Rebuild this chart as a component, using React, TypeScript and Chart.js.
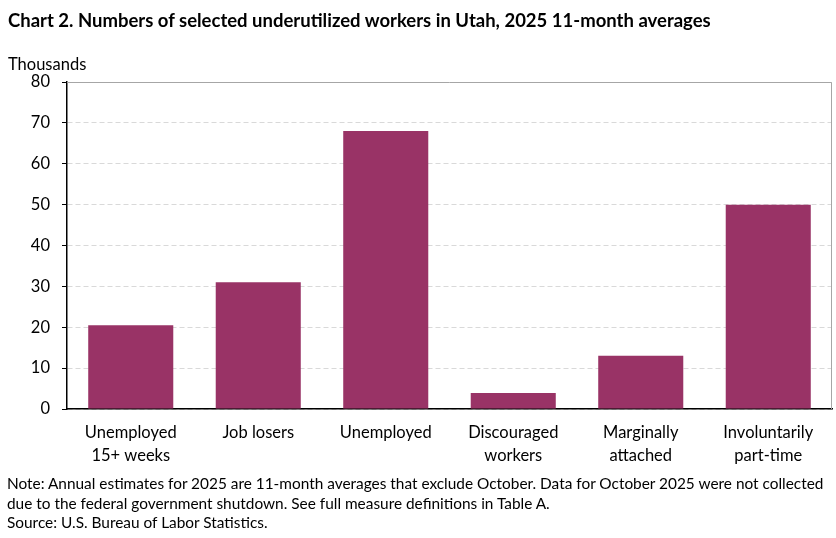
import React, { useEffect, useRef } from 'react';
import { Chart, registerables } from 'chart.js';

Chart.register(...registerables);

// Chart 2 data (thousands)
const categories: string[][] = [
  ['Unemployed', '15+ weeks'],
  ['Job losers'],
  ['Unemployed'],
  ['Discouraged', 'workers'],
  ['Marginally', 'attached'],
  ['Involuntarily', 'part-time'],
];
const workers: number[] = [20.5, 31.0, 68.0, 3.9, 13.0, 50.0];
const yTicks: number[] = [0, 10, 20, 30, 40, 50, 60, 70, 80];

const FONT = 'Lato, "Open Sans", sans-serif';
const CANVAS_H = 475;

// gray frame on the top and right of the plot area
const framePlugin = {
  id: 'frame',
  afterDraw(chart: Chart) {
    const { ctx, chartArea } = chart;
    ctx.save();
    ctx.strokeStyle = '#a6a6a6';
    ctx.lineWidth = 1;
    ctx.beginPath();
    ctx.moveTo(chartArea.left, chartArea.top + 0.5);
    ctx.lineTo(chartArea.right - 0.5, chartArea.top + 0.5);
    ctx.lineTo(chartArea.right - 0.5, chartArea.bottom);
    ctx.stroke();
    ctx.restore();
  },
};

const UnderutilizedChart: React.FC = () => {
  const canvasRef = useRef<HTMLCanvasElement | null>(null);
  const chartRef = useRef<Chart | null>(null);

  useEffect(() => {
    if (!canvasRef.current) return;
    const ctx = canvasRef.current.getContext('2d');
    if (!ctx) return;

    chartRef.current = new Chart(ctx, {
      type: 'bar',
      data: {
        labels: categories,
        datasets: [
          {
            data: workers,
            backgroundColor: '#993366',
            borderWidth: 0,
            barPercentage: 0.667,
            categoryPercentage: 1,
          },
        ],
      },
      options: {
        responsive: false,
        animation: false,
        layout: { padding: { top: 82, right: 4, left: 0, bottom: 0 } },
        plugins: {
          legend: { display: false },
          tooltip: { enabled: false },
        },
        scales: {
          x: {
            grid: { display: false },
            border: { display: true, color: '#000000', width: 1.5 },
            ticks: {
              color: '#000000',
              font: { family: FONT, size: 16.5, lineHeight: 1.35 },
              padding: 5,
              maxRotation: 0,
              autoSkip: false,
            },
            afterFit: (scale: any) => {
              scale.height = CANVAS_H - 409;
            },
          },
          y: {
            min: 0,
            max: 80,
            afterBuildTicks: (scale: any) => {
              scale.ticks = yTicks.map((v) => ({ value: v }));
            },
            grid: {
              color: '#d9d9d9',
              lineWidth: 1,
              tickLength: 5,
              tickColor: '#000000',
              tickBorderDash: [],
            },
            border: { display: true, color: '#000000', width: 1.5, dash: [5, 3] },
            ticks: {
              color: '#000000',
              font: { family: FONT, size: 16.5 },
              padding: 12,
            },
            afterFit: (scale: any) => {
              scale.width = 67;
            },
          },
        },
      },
      plugins: [framePlugin],
    });

    return () => {
      if (chartRef.current) {
        chartRef.current.destroy();
        chartRef.current = null;
      }
    };
  }, []);

  return <canvas ref={canvasRef} width={836} height={CANVAS_H} style={{ display: 'block' }} />;
};

export default function App() {
  useEffect(() => {
    document.body.style.margin = '0';
  }, []);

  return (
    <div
      style={{
        position: 'relative',
        width: 836,
        height: 538,
        background: '#ffffff',
        fontFamily: FONT,
        color: '#000000',
        overflow: 'hidden',
      }}
    >
      <div style={{ position: 'absolute', left: 0, top: 0 }}>
        <UnderutilizedChart />
      </div>
      <div
        style={{
          position: 'absolute',
          left: 8,
          top: 9,
          fontSize: 18.5,
          lineHeight: '22px',
          fontWeight: 700,
          whiteSpace: 'nowrap',
        }}
      >
        Chart 2. Numbers of selected underutilized workers in Utah, 2025 11-month averages
      </div>
      <div style={{ position: 'absolute', left: 8, top: 54, fontSize: 16.5, lineHeight: '20px' }}>
        Thousands
      </div>
      <div
        style={{
          position: 'absolute',
          left: 7,
          top: 474,
          fontSize: 15.4,
          lineHeight: '19.5px',
          whiteSpace: 'nowrap',
        }}
      >
        <div>
          Note: Annual estimates for 2025 are 11-month averages that exclude October. Data for October 2025 were not collected
        </div>
        <div>due to the federal government shutdown. See full measure definitions in Table A.</div>
        <div>Source: U.S. Bureau of Labor Statistics.</div>
      </div>
    </div>
  );
}
